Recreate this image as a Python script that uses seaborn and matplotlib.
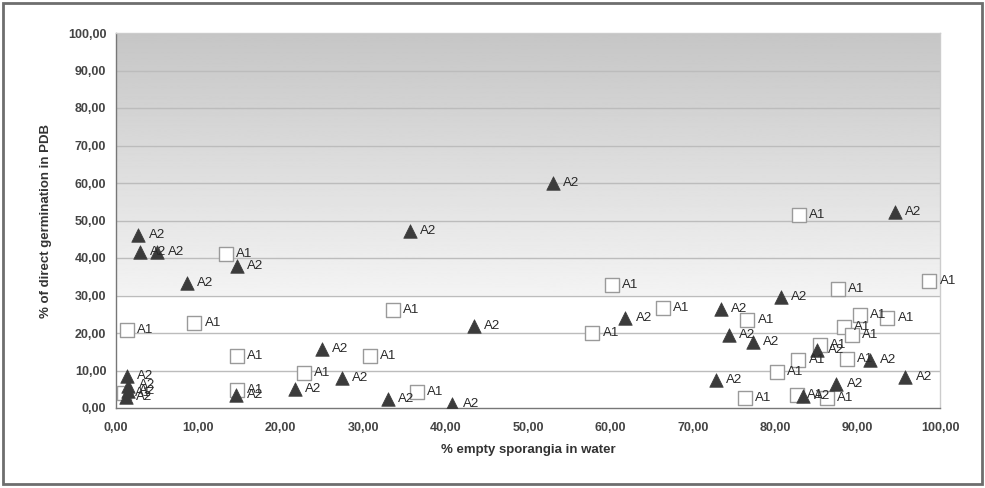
import numpy as np
import pandas as pd
import matplotlib
matplotlib.use("Agg")
import matplotlib.pyplot as plt
import seaborn as sns
from matplotlib.patches import Rectangle
from matplotlib.ticker import FuncFormatter

# Data: (% empty sporangia in water, % direct germination in PDB)
a1_x = [1.3, 1.0, 9.5, 13.3, 14.7, 14.7, 22.8, 30.8, 33.6, 36.5,
        57.8, 60.2, 66.4, 76.3, 76.6, 80.2, 82.6, 82.8, 82.9, 85.4,
        86.3, 87.6, 88.3, 88.7, 89.3, 90.3, 93.6, 98.7]
a1_y = [20.8, 4.0, 22.7, 41.0, 13.9, 4.8, 9.3, 13.9, 26.1, 4.3,
        20.0, 32.8, 26.7, 2.7, 23.5, 9.6, 3.5, 12.8, 51.5, 16.8,
        2.7, 31.7, 21.6, 13.1, 19.5, 24.8, 24.0, 33.9]

a2_x = [1.3, 1.5, 1.5, 1.2, 2.7, 2.9, 5.0, 8.6, 14.6, 14.7,
        21.7, 25.0, 27.4, 33.0, 35.7, 40.8, 43.4, 53.0, 61.8, 72.8,
        73.4, 74.4, 77.3, 80.7, 83.4, 85.1, 87.4, 91.5, 94.5, 95.8]
a2_y = [8.5, 6.0, 4.5, 3.0, 46.1, 41.6, 41.6, 33.3, 3.5, 37.9,
        5.1, 15.7, 8.0, 2.4, 47.2, 1.1, 21.9, 60.0, 24.0, 7.5,
        26.4, 19.5, 17.6, 29.6, 3.2, 15.5, 6.4, 12.8, 52.3, 8.3]

a1 = pd.DataFrame({"x": a1_x, "y": a1_y, "isolate": "A1"})
a2 = pd.DataFrame({"x": a2_x, "y": a2_y, "isolate": "A2"})

sns.set_style("white")
plt.rcParams["font.family"] = ["Liberation Sans", "DejaVu Sans"]

fig = plt.figure(figsize=(9.85, 4.88), dpi=100)
ax = fig.add_axes([116 / 985, 80 / 488, 824 / 985, 375 / 488])

# gray gradient background, darker towards the top
yy = np.linspace(0, 100, 400)
shade = np.where(yy > 30, 0.955 - (yy - 30) / 70 * 0.18, 1.0)
ax.imshow(shade[:, None], extent=[0, 100, 0, 100], origin="lower", aspect="auto",
          cmap="gray", vmin=0, vmax=1, zorder=0)

for yv in range(10, 101, 10):
    ax.axhline(yv, color="#bcbcbc", lw=1.0, zorder=1)

sns.scatterplot(data=a1, x="x", y="y", marker="s", s=95, color="white",
                edgecolor="#9a9a9a", linewidth=1.0, ax=ax, zorder=3, legend=False)
sns.scatterplot(data=a2, x="x", y="y", marker="^", s=95, color="#3b3b3b",
                edgecolor="#3b3b3b", linewidth=0.5, ax=ax, zorder=4, legend=False)

for df in (a1, a2):
    for _, r in df.iterrows():
        ax.text(r["x"] + 1.25, r["y"], r["isolate"], fontsize=9.5, color="#2a2a2a",
                va="center", ha="left", zorder=5)

ax.set_xlim(0, 100)
ax.set_ylim(0, 100)
ax.set_xticks(range(0, 101, 10))
ax.set_yticks(range(0, 101, 10))
fmt = FuncFormatter(lambda v, p: f"{v:.2f}".replace(".", ","))
ax.xaxis.set_major_formatter(fmt)
ax.yaxis.set_major_formatter(fmt)
ax.tick_params(axis="x", labelsize=9, length=0, pad=10)
ax.tick_params(axis="y", labelsize=9, length=0, pad=7)
for lbl in ax.get_xticklabels() + ax.get_yticklabels():
    lbl.set_fontweight("bold")
    lbl.set_color("#444444")

for side in ("top", "right"):
    ax.spines[side].set_color("#cccccc")
    ax.spines[side].set_linewidth(1)
for side in ("left", "bottom"):
    ax.spines[side].set_color("#777777")
    ax.spines[side].set_linewidth(1)

ax.set_xlabel("% empty sporangia in water", fontsize=9.5, fontweight="bold",
              color="#333333", labelpad=7)
ax.set_ylabel("% of direct germination in PDB", fontsize=9.5, fontweight="bold",
              color="#333333", labelpad=11)

# outer frame
fig.patches.append(Rectangle((3 / 985, 4 / 488), 979 / 985, 481 / 488, transform=fig.transFigure,
                             fill=False, edgecolor="#6e6e6e", linewidth=2))

fig.savefig("out.png", dpi=100)
